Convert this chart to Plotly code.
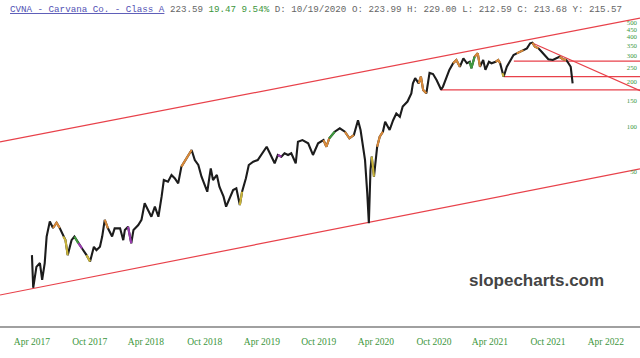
import plotly.graph_objects as go

# ---- price series (approximate closes / swing points) ----
dates = [
    "2017-04-28", "2017-05-02", "2017-05-12", "2017-05-23", "2017-05-30", "2017-06-07",
    "2017-06-13", "2017-06-23", "2017-07-03", "2017-07-14", "2017-07-24", "2017-08-04",
    "2017-08-11", "2017-08-18", "2017-08-30", "2017-09-08", "2017-09-20", "2017-10-02",
    "2017-10-16", "2017-10-27", "2017-11-08", "2017-11-16", "2017-11-27", "2017-12-04",
    "2017-12-12", "2017-12-22", "2018-01-04", "2018-01-12", "2018-01-29", "2018-02-08",
    "2018-02-13", "2018-02-23", "2018-03-05", "2018-03-12", "2018-03-27", "2018-04-06",
    "2018-04-16", "2018-04-30", "2018-05-07", "2018-05-18", "2018-05-29", "2018-06-08",
    "2018-06-15", "2018-06-28", "2018-07-09", "2018-07-19", "2018-07-30", "2018-08-09",
    "2018-08-24", "2018-09-10", "2018-09-20", "2018-10-01", "2018-10-11", "2018-10-22",
    "2018-10-29", "2018-11-05", "2018-11-09", "2018-11-16", "2018-11-28", "2018-12-06",
    "2018-12-19", "2018-12-27", "2019-01-08", "2019-01-18", "2019-01-28", "2019-02-08",
    "2019-02-15", "2019-02-27", "2019-03-08", "2019-03-22", "2019-04-05", "2019-04-16",
    "2019-05-03", "2019-05-13", "2019-05-28", "2019-06-07", "2019-06-18", "2019-06-28",
    "2019-07-09", "2019-07-19", "2019-08-02", "2019-08-09", "2019-08-23", "2019-09-10",
    "2019-09-25", "2019-10-11", "2019-10-28", "2019-11-06", "2019-11-15", "2019-12-02",
    "2019-12-18", "2020-01-03", "2020-01-17", "2020-01-31", "2020-02-13", "2020-02-21",
    "2020-02-28", "2020-03-06", "2020-03-13", "2020-03-18", "2020-03-23", "2020-03-27",
    "2020-04-03", "2020-04-13", "2020-04-21", "2020-05-01", "2020-05-08", "2020-05-22",
    "2020-06-02", "2020-06-12", "2020-06-23", "2020-07-02", "2020-07-17", "2020-07-29",
    "2020-08-03", "2020-08-10", "2020-08-21", "2020-08-28", "2020-09-04", "2020-09-14",
    "2020-09-24", "2020-10-05", "2020-10-16", "2020-10-26", "2020-10-30", "2020-11-05",
    "2020-11-16", "2020-11-25", "2020-12-07", "2020-12-17", "2020-12-28", "2021-01-08",
    "2021-01-19", "2021-01-28", "2021-02-02", "2021-02-12", "2021-02-22", "2021-03-01",
    "2021-03-11", "2021-03-18", "2021-03-29", "2021-04-06", "2021-04-19", "2021-04-27",
    "2021-05-03", "2021-05-10", "2021-05-14", "2021-05-24", "2021-06-03", "2021-06-14",
    "2021-06-24", "2021-07-06", "2021-07-15", "2021-07-26", "2021-08-05", "2021-08-12",
    "2021-08-20", "2021-08-31", "2021-09-10", "2021-09-20", "2021-10-01", "2021-10-15",
    "2021-10-26", "2021-11-05", "2021-11-16", "2021-11-26", "2021-12-03", "2021-12-10",
    "2021-12-13", "2021-12-16",
]
prices = [
    13.9, 8.4, 11.6, 12.3, 9.5, 12.3,
    18.5, 23.3, 21.1, 22.9, 21.1, 18.5,
    17.5, 13.9, 17.5, 18.5, 16.7, 15.4,
    13.9, 12.6, 15.8, 15.0, 15.8, 18.5,
    23.9, 21.0, 18.5, 21.0, 21.0, 17.5,
    20.5, 21.5, 16.7, 20.5, 22.1, 23.9,
    30.9, 27.1, 25.1, 29.3, 25.1, 34.2,
    44.2, 43.1, 47.8, 45.4, 42.0, 54.3,
    61.7, 70.2, 60.1, 55.7, 46.5, 40.9,
    36.9, 46.5, 52.9, 44.2, 47.8, 39.9,
    34.2, 29.3, 33.4, 37.9, 38.9, 30.1,
    36.9, 45.4, 55.7, 58.6, 60.1, 65.0,
    73.8, 66.7, 57.2, 65.0, 63.3, 66.7,
    65.0, 66.7, 57.2, 79.7, 81.8, 77.8,
    65.0, 77.8, 81.8, 73.8, 84.0, 93.0,
    98.0, 93.0, 84.0, 88.4, 111.0, 95.5,
    77.8, 60.1, 36.0, 22.7, 51.6, 63.3,
    46.5, 73.8, 86.1, 93.0, 108.5, 95.5,
    111.0, 123.0, 117.0, 137.0, 148.0, 168.0,
    196.0, 212.0, 196.0, 217.0, 177.0, 168.0,
    230.0, 226.0, 206.0, 186.0, 178.0, 186.0,
    217.0, 241.0, 267.0, 281.0, 253.0, 288.0,
    267.0, 273.0, 247.0, 295.0, 311.0, 253.0,
    281.0, 241.0, 273.0, 267.0, 273.0, 281.0,
    267.0, 229.0, 217.0, 253.0, 273.0, 303.0,
    311.0, 319.0, 327.0, 336.0, 363.0, 366.0,
    344.0, 336.0, 319.0, 303.0, 284.0, 281.0,
    288.0, 295.0, 284.0, 281.0, 267.0, 253.0,
    223.0, 196.0,
]

# colour-coded stretches of the bar series (start date, end date)
orange_spans = [("2017-07-03", "2017-07-24"), ("2017-12-12", "2017-12-22"),
                ("2018-08-09", "2018-09-10"), ("2019-10-28", "2019-11-15"),
                ("2020-01-03", "2020-01-31"), ("2020-04-13", "2020-05-01"),
                ("2020-08-21", "2020-09-14"), ("2020-12-07", "2020-12-28"),
                ("2021-02-12", "2021-03-01"), ("2021-04-19", "2021-05-03"),
                ("2021-06-24", "2021-07-15"), ("2021-08-12", "2021-08-31"),
                ("2021-11-05", "2021-11-26")]
yellow_spans = [("2017-08-04", "2017-08-18"), ("2017-10-16", "2017-10-27"),
                ("2019-02-08", "2019-02-15"), ("2020-03-27", "2020-04-03"),
                ("2021-05-10", "2021-05-14")]
purple_spans = [("2017-09-20", "2017-10-02"), ("2018-02-23", "2018-03-05"),
                ("2019-06-07", "2019-06-18")]
green_spans = [("2017-09-08", "2017-09-20"), ("2019-11-15", "2019-12-02"),
               ("2021-01-28", "2021-02-12")]

# ---- trend lines (date, price endpoints) ----
upper_channel_dates = ["2017-01-18", "2022-07-15"]
upper_channel_prices = [79.4, 535.6]
lower_channel_dates = ["2017-01-18", "2022-07-15"]
lower_channel_prices = [7.52, 52.4]
down_trend_dates = ["2021-08-10", "2022-07-15"]
down_trend_prices = [366.0, 175.0]
support_levels = [276.0, 217.0, 177.0]
support_starts = ["2021-06-15", "2021-05-14", "2020-10-28"]
line_end_date = "2022-07-15"

# ---- axes ----
x_range = ["2017-01-18", "2022-07-15"]
x_tick_dates = ["2017-04-28", "2017-10-26", "2018-04-20", "2018-10-21", "2019-04-18",
                "2019-10-13", "2020-04-09", "2020-10-08", "2021-04-01", "2021-09-30",
                "2022-03-30"]
x_tick_text = ["Apr 2017", "Oct 2017", "Apr 2018", "Oct 2018", "Apr 2019", "Oct 2019",
               "Apr 2020", "Oct 2020", "Apr 2021", "Oct 2021", "Apr 2022"]
y_tick_vals = [50, 100, 150, 200, 250, 300, 350, 400, 450, 500]
y_log_range = [0.6689, 2.7492]

RED = "#e8414a"
GREEN = "#3c963c"

fig = go.Figure()

fig.add_trace(go.Scatter(x=upper_channel_dates, y=upper_channel_prices, mode="lines",
                         line=dict(color=RED, width=1.2), hoverinfo="skip"))
fig.add_trace(go.Scatter(x=lower_channel_dates, y=lower_channel_prices, mode="lines",
                         line=dict(color=RED, width=1.2), hoverinfo="skip"))
fig.add_trace(go.Scatter(x=down_trend_dates, y=down_trend_prices, mode="lines",
                         line=dict(color=RED, width=1.2), hoverinfo="skip"))
for lvl, start in zip(support_levels, support_starts):
    fig.add_trace(go.Scatter(x=[start, line_end_date], y=[lvl, lvl], mode="lines",
                             line=dict(color=RED, width=1.2), hoverinfo="skip"))

fig.add_trace(go.Scatter(x=dates, y=prices, mode="lines",
                         line=dict(color="#1c1c1c", width=2.1)))


def span_points(spans):
    xs, ys = [], []
    for s, e in spans:
        for d, p in zip(dates, prices):
            if s <= d <= e:
                xs.append(d)
                ys.append(p)
        xs.append(None)
        ys.append(None)
    return xs, ys


for spans, col in [(orange_spans, "#d98a3a"), (yellow_spans, "#c9b43a"),
                   (purple_spans, "#9a3cb0"), (green_spans, "#3f9a3f")]:
    sx, sy = span_points(spans)
    fig.add_trace(go.Scatter(x=sx, y=sy, mode="lines", connectgaps=False,
                             line=dict(color=col, width=2.1), hoverinfo="skip"))

title_html = (
    "<span style='color:#5252b4;text-decoration:underline'>CVNA - Carvana Co. - Class A</span>"
    " <span style='color:#666666'>223.59</span>"
    " <span style='color:#3c963c'>19.47 9.54%</span>"
    " <span style='color:#666666'>D: 10/19/2020 O: 223.99 H: 229.00 L: 212.59 C: 213.68 Y: 215.57</span>"
)

fig.update_layout(
    width=640, height=358,
    margin=dict(l=0, r=0, t=15, b=32),
    paper_bgcolor="white", plot_bgcolor="white",
    showlegend=False,
    xaxis=dict(
        type="date", range=x_range,
        tickvals=x_tick_dates, ticktext=x_tick_text,
        tickfont=dict(family="Liberation Serif", size=9.5, color=GREEN),
        showgrid=False, zeroline=False,
        showline=True, linecolor="#a0a0a0", linewidth=2,
        ticks="outside", ticklen=6, tickcolor="rgba(0,0,0,0)",
    ),
    yaxis=dict(
        type="log", range=y_log_range, side="right",
        tickvals=y_tick_vals, ticktext=[str(v) for v in y_tick_vals],
        ticklabelposition="inside",
        tickfont=dict(family="Liberation Serif", size=6.8, color=GREEN),
        showgrid=False, zeroline=False, showline=False,
    ),
    annotations=[
        dict(text=title_html, xref="paper", yref="paper", x=8 / 640, y=1.019,
             xanchor="left", yanchor="middle", showarrow=False,
             font=dict(family="Liberation Mono", size=9.2, color="#666666")),
        dict(text="<b>slopecharts.com</b>", xref="paper", yref="paper", x=0.8375, y=0.1447,
             xanchor="center", yanchor="middle", showarrow=False,
             font=dict(family="Liberation Sans", size=17, color="#444444")),
    ],
)

fig.write_html("out.html")
